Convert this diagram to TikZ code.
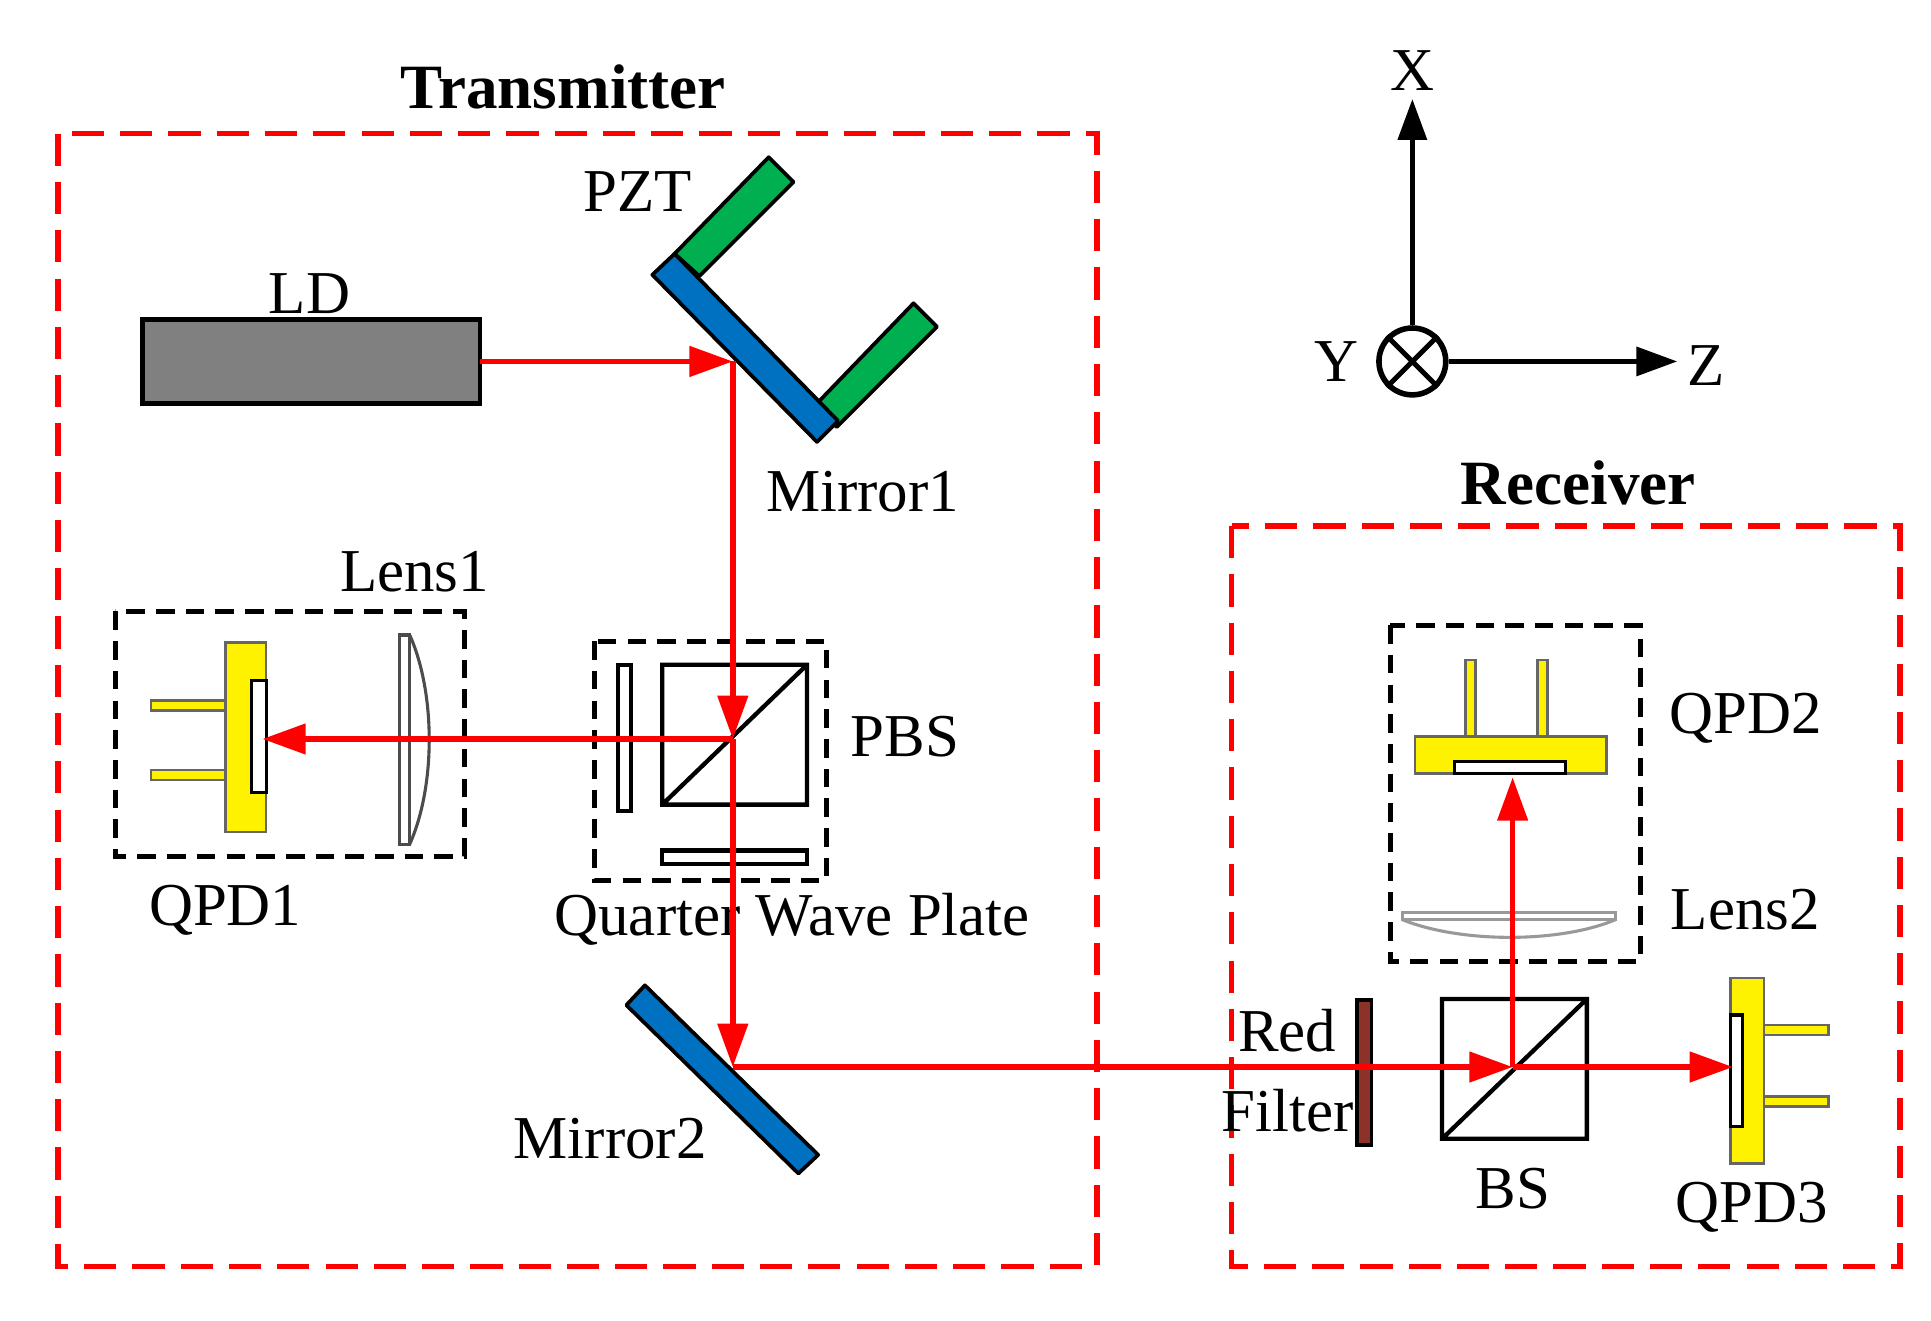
\documentclass[tikz,border=0pt]{standalone}
\usepackage{fontspec}
\setmainfont{Liberation Serif}
\usetikzlibrary{arrows.meta}
\definecolor{mblue}{RGB}{0,112,192}
\definecolor{mgreen}{RGB}{0,176,80}
\definecolor{fbrown}{RGB}{140,50,40}
\begin{document}
\begin{tikzpicture}[x=0.1mm,y=-0.1mm,
  lbl/.style={font=\fontsize{14}{16}\selectfont,inner sep=0},
  ttl/.style={font=\fontsize{14.5}{17}\selectfont\bfseries,inner sep=0},
  reddash/.style={draw=red,line width=0.45mm,dash pattern=on 2.6mm off 1.3mm},
  blkdash/.style={draw=black,line width=0.4mm,dash pattern=on 1.5mm off 0.9mm},
  beam/.style={draw=red,line width=0.45mm},
  arr/.style={beam,-{Triangle[length=3.5mm,width=2.4mm]}},
  optic/.style={draw=black,line width=0.35mm},
  yel/.style={fill=yellow,draw=black!60,line width=0.2mm}]
\useasboundingbox (0,0) rectangle (1560,1067);
% boxes
\draw[reddash] (47,108) rectangle (886,1023);
\draw[reddash] (995,425) rectangle (1535,1023);
\node[ttl] at (455,70) {Transmitter};
\node[ttl] at (1275,390) {Receiver};
\draw[blkdash] (93,494) rectangle (375,692);
\draw[blkdash] (480,518) rectangle (668,711);
\draw[blkdash] (1123,505) rectangle (1325,777);
% LD
\draw[fill=black!50,line width=0.35mm] (115,258) rectangle (388,326);
\node[lbl] at (250,237) {LD};
% Mirror1 + PZT
\draw[fill=mgreen,line width=0.3mm,line join=round] (545,205) -- (621,127) -- (641,147) -- (565,223) -- cycle;
\draw[fill=mgreen,line width=0.3mm,line join=round] (658,328) -- (738,245) -- (757,264) -- (676,345) -- cycle;
\draw[fill=mblue,line width=0.3mm,line join=round] (527,222) -- (545,205) -- (677,340) -- (660,357) -- cycle;
\node[lbl] at (515,155) {PZT};
\node[lbl] at (697,397) {Mirror1};
% Mirror2
\draw[fill=mblue,line width=0.3mm,line join=round] (506,812) -- (521,796) -- (661,933) -- (645,948) -- cycle;
\node[lbl] at (493,920) {Mirror2};
% PBS
\draw[optic] (535,537) rectangle (652,650) (535,650) -- (652,537);
\draw[optic] (499,537) rectangle (510,655);
\draw[optic] (535,687) rectangle (652,698);
\node[lbl] at (731,595) {PBS};
\node[lbl] at (640,743) {Quarter Wave Plate};
% QPD1
\draw[yel] (122,566) rectangle (182,574) (122,622) rectangle (182,630);
\draw[yel] (182,519) rectangle (215,672);
\draw[fill=white,draw=black,line width=0.25mm] (203,550) rectangle (215,640);
\node[lbl] at (182,735) {QPD1};
% Lens1
\draw[fill=white,draw=black!70,line width=0.25mm] (323,513) rectangle (331,682);
\draw[draw=black!70,line width=0.25mm] (331,513) .. controls (352,560) and (352,635) .. (331,682);
\node[lbl] at (335,462) {Lens1};
% axes
\node[draw,circle,line width=0.45mm,minimum size=5.4mm,inner sep=0] (o) at (1141,292) {};
\draw[line width=0.4mm] (o.north west)--(o.south east) (o.north east)--(o.south west);
\coordinate (xe) at (1141,80);
\coordinate (ze) at (1355,292);
\draw[line width=0.4mm,-{Triangle[length=3.3mm,width=2.3mm]}] (o.north) -- (xe);
\draw[line width=0.4mm,-{Triangle[length=3.3mm,width=2.3mm]}] (o.east) -- (ze);
\node[lbl] at (1141,57) {X};
\node[lbl] at (1378,295) {Z};
\node[lbl] at (1080,292) {Y};
% QPD2
\draw[yel] (1184,533) rectangle (1192,597) (1242,533) rectangle (1250,597);
\draw[yel] (1143,595) rectangle (1298,625);
\draw[fill=white,draw=black,line width=0.25mm] (1175,615) rectangle (1265,625);
\node[lbl] at (1410,580) {QPD2};
% Lens2
\draw[fill=white,draw=black!40,line width=0.25mm] (1133,737) rectangle (1305,743);
\draw[draw=black!40,line width=0.25mm] (1133,743) .. controls (1180,762) and (1260,762) .. (1305,743);
\node[lbl] at (1410,735) {Lens2};
% Red filter
\draw[fill=fbrown,line width=0.3mm] (1096,808) rectangle (1108,925);
\node[lbl] at (1040,833) {Red};
\node[lbl] at (1040,897) {Filter};
% BS
\draw[optic] (1165,807) rectangle (1282,920) (1165,920) -- (1282,807);
\node[lbl] at (1222,960) {BS};
% QPD3
\draw[yel] (1425,828) rectangle (1477,836) (1425,886) rectangle (1477,894);
\draw[yel] (1398,790) rectangle (1425,940);
\draw[fill=white,draw=black,line width=0.25mm] (1398,820) rectangle (1408,910);
\node[lbl] at (1415,975) {QPD3};
% beam points
\coordinate (ld) at (388,292);
\coordinate (m1) at (592,292);
\coordinate (pbs) at (592,597);
\coordinate (m2) at (592,862);
\coordinate (bs) at (1222,862);
\coordinate (q1) at (212,597);
\coordinate (q2) at (1222,628);
\coordinate (q3) at (1400,862);
\draw[arr] (ld) -- (m1);
\draw[arr] (m1) -- (pbs);
\draw[arr] (pbs) -- (m2);
\draw[arr] (m2) -- (bs);
\draw[arr] (bs) -- (q3);
\draw[arr] (bs) -- (q2);
\draw[arr] (pbs) -- (q1);
\end{tikzpicture}
\end{document}
